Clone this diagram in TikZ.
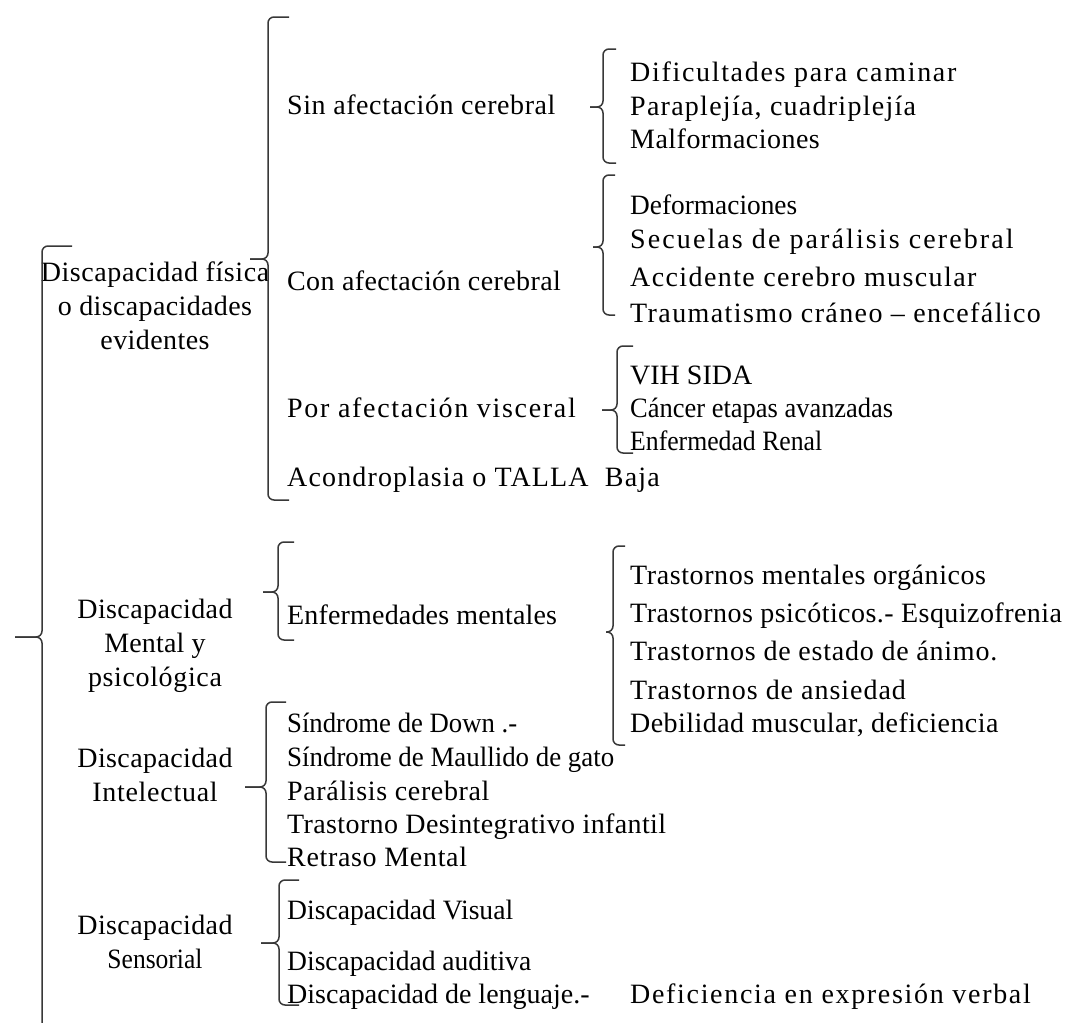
\documentclass[tikz,border=0pt]{standalone}
\usepackage{graphicx}
\usepackage{fontspec}
\setmainfont{Liberation Serif}
\newcommand\ls[2]{{\addfontfeature{LetterSpace=#1}#2}}
\newcommand\tw[2]{\resizebox{#1pt}{\height}{#2}}
\newcommand\mybrace[6]{% x, ytop, ytip, ybot, xtip, xhook
  \draw[bracestyle] (#6,#2) -- (#1,#2) -- (#1,#3) -- (#5,#3);
  \draw[bracestyle] (#5,#3) -- (#1,#3) -- (#1,#4) -- (#6,#4);
}
\begin{document}
\begin{tikzpicture}[x=1pt,y=-1pt,
  txt/.style={anchor=mid west, inner sep=0pt, font=\fontsize{28}{34}\selectfont},
  cat/.style={anchor=center, align=center, inner sep=0pt, font=\fontsize{28}{34}\selectfont},
  bracestyle/.style={draw=black!78, line width=1.5pt, rounded corners=6pt}]
\useasboundingbox[fill=white] (0,0) rectangle (1069,1023);

% categories
\node[cat] (fisica) at (155,306) {\ls{2.1}{Discapacidad física}\\\ls{1.3}{o discapacidades}\\\ls{1.5}{evidentes}};
\node[cat] (mental) at (155,646) {\ls{1.4}{Discapacidad}\\\ls{0.7}{Mental y}\\\ls{2.3}{psicológica}};
\node[cat] (intel) at (155,775) {\ls{1.4}{Discapacidad}\\\ls{2.6}{Intelectual}};
\node[cat] (senso) at (155,942) {\ls{1.4}{Discapacidad}\\\tw{95}{Sensorial}};

% fisica subgroups
\node[txt] (sin) at (287,112) {\ls{2.1}{Sin afectación cerebral}};
\node[txt] (con) at (287,288) {\ls{1.4}{Con afectación cerebral}};
\node[txt] (visc) at (287,415) {\ls{6}{Por afectación visceral}};
\node[txt] (acon) at (287,484) {\ls{4.1}{Acondroplasia o TALLA\ \ Baja}};

\node[txt] (s1) at (630,79) {\ls{6}{Dificultades para caminar}};
\node[txt] (s2) at (630,113) {\ls{4.5}{Paraplejía, cuadriplejía}};
\node[txt] (s3) at (630,146) {\ls{1.7}{Malformaciones}};

\node[txt] (c1) at (630,212) {\tw{167}{Deformaciones}};
\node[txt] (c2) at (630,246) {\ls{7.5}{Secuelas de parálisis cerebral}};
\node[txt] (c3) at (630,284) {\ls{5}{Accidente cerebro muscular}};
\node[txt] (c4) at (630,320) {\ls{5}{Traumatismo cráneo – encefálico}};

\node[txt] (v1) at (630,382) {VIH SIDA};
\node[txt] (v2) at (630,415) {\tw{263}{Cáncer etapas avanzadas}};
\node[txt] (v3) at (630,448) {\tw{192}{Enfermedad Renal}};

% mental
\node[txt] (enf) at (287,622) {\ls{0.6}{Enfermedades mentales}};
\node[txt] (m1) at (630,582) {\ls{2.1}{Trastornos mentales orgánicos}};
\node[txt] (m2) at (630,620) {\ls{1.6}{Trastornos psicóticos.- Esquizofrenia}};
\node[txt] (m3) at (630,658) {\ls{2.7}{Trastornos de estado de ánimo.}};
\node[txt] (m4) at (630,697) {\ls{3.5}{Trastornos de ansiedad}};
\node[txt] (m5) at (630,730) {\ls{1.6}{Debilidad muscular, deficiencia}};

% intelectual
\node[txt] (i1) at (287,730) {\tw{230}{Síndrome de Down .-}};
\node[txt] (i2) at (287,764) {\tw{327}{Síndrome de Maullido de gato}};
\node[txt] (i3) at (287,798) {\ls{2.3}{Parálisis cerebral}};
\node[txt] (i4) at (287,831) {\ls{1.35}{Trastorno Desintegrativo infantil}};
\node[txt] (i5) at (287,864) {\ls{2.4}{Retraso Mental}};

% sensorial
\node[txt] (e1) at (287,917) {\tw{226}{Discapacidad Visual}};
\node[txt] (e2) at (287,968) {\tw{244}{Discapacidad auditiva}};
\node[txt] (e3) at (287,1001) {Discapacidad de lenguaje.-};
\node[txt] (e4) at (630,1001) {\ls{6}{Deficiencia en expresión verbal}};

% braces
\draw[bracestyle] (72,246) -- (42,246) -- (42,637) -- (15,637);
\draw[bracestyle] (15,637) -- (42,637) -- (42,1023);
\mybrace{268}{17}{259}{500}{250}{289}
\mybrace{603}{49}{107}{163}{590}{616}
\mybrace{603}{175}{247}{315}{593}{615}
\mybrace{617}{346}{410}{453}{602}{633}
\mybrace{278}{542}{592}{640}{263}{294}
\mybrace{613}{546}{632}{745}{606}{625}
\mybrace{266}{702}{787}{862}{245}{286}
\mybrace{279}{880}{943}{1005}{261}{299}
\end{tikzpicture}
\end{document}
